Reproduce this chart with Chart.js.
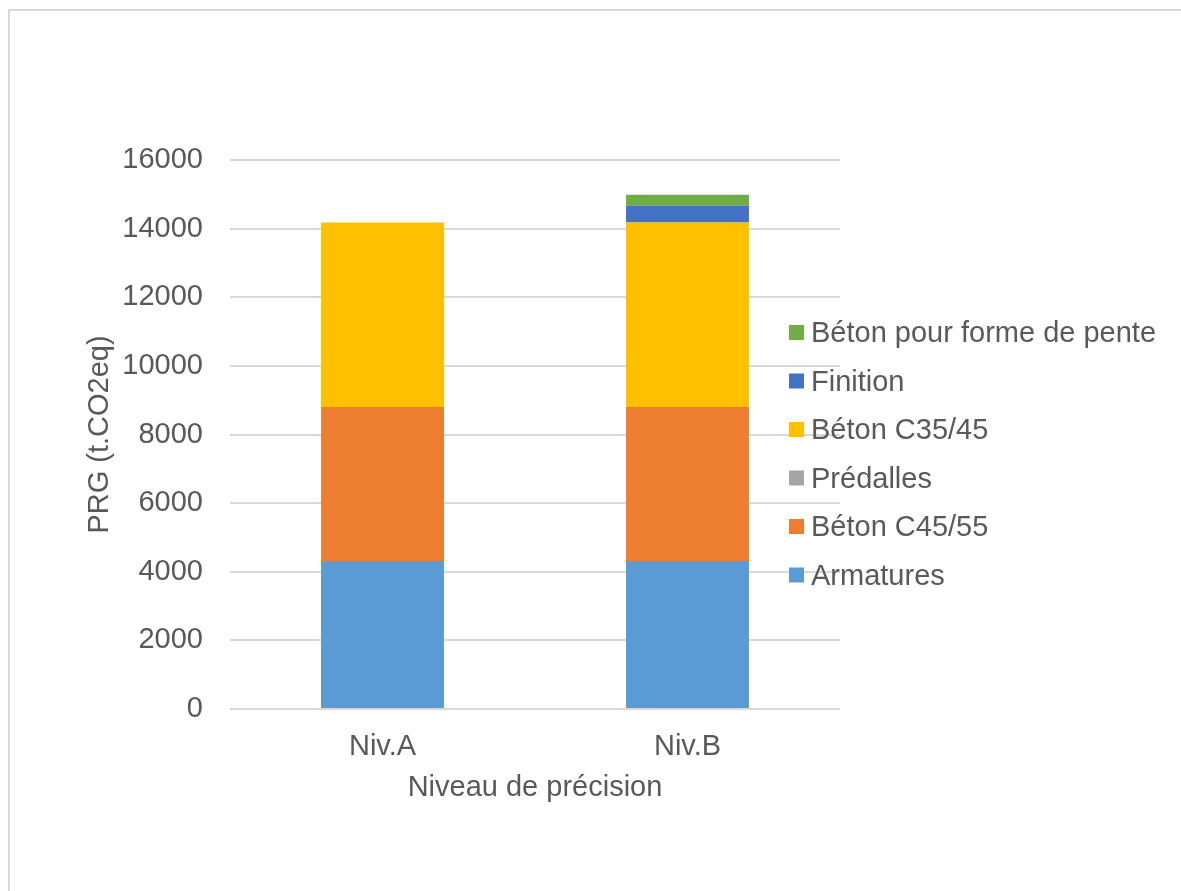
<!DOCTYPE html>
<html>
<head>
<meta charset="utf-8">
<script src="https://cdn.jsdelivr.net/npm/chart.js@4"></script>
<style>
  html, body { margin: 0; padding: 0; background: #ffffff; width: 1181px; height: 891px; overflow: hidden; }
  #frame { position: absolute; left: 8px; top: 9px; width: 1200px; height: 900px; border-left: 2px solid #d9d9d9; border-top: 2px solid #d9d9d9; }
  #wrap { position: absolute; left: 0; top: 0; width: 1181px; height: 891px; }
</style>
</head>
<body>
<div id="frame"></div>
<div id="wrap"><canvas id="c" width="1181" height="891"></canvas></div>
<script>
const categories = ["Niv.A", "Niv.B"];
const armatures = [4310, 4310];
const betonC4555 = [4490, 4490];
const predalles = [0, 0];
const betonC3545 = [5375, 5375];
const finition = [0, 495];
const betonPente = [0, 320];
const seriesNames = ["Armatures", "Béton C45/55", "Prédalles", "Béton C35/45", "Finition", "Béton pour forme de pente"];
const seriesColors = ["#5B9BD5", "#ED7D31", "#A5A5A5", "#FFC000", "#4472C4", "#70AD47"];
const yTitle = "PRG (t.CO2eq)";
const xTitle = "Niveau de précision";

const seriesValues = [armatures, betonC4555, predalles, betonC3545, finition, betonPente];
const FONT = "'Liberation Sans', Arial, sans-serif";
const TXT = "#595959";

const legendPlugin = {
  id: 'customLegend',
  afterDraw(chart) {
    const ctx = chart.ctx;
    ctx.save();
    ctx.font = "29px " + FONT;
    ctx.textBaseline = 'alphabetic';
    ctx.textAlign = 'left';
    const ds = chart.data.datasets;
    let row = 0;
    for (let i = ds.length - 1; i >= 0; i--) {
      const top = 325 + row * 48.5;
      ctx.fillStyle = ds[i].backgroundColor;
      ctx.fillRect(789, top, 15, 15);
      ctx.fillStyle = TXT;
      ctx.fillText(ds[i].label, 811, top + 17.3);
      row++;
    }
    ctx.restore();
  }
};

new Chart(document.getElementById('c'), {
  type: 'bar',
  data: {
    labels: categories,
    datasets: seriesNames.map((n, i) => ({
      label: n,
      data: seriesValues[i],
      backgroundColor: seriesColors[i],
      borderWidth: 0,
      barPercentage: 0.403,
      categoryPercentage: 1.0
    }))
  },
  options: {
    responsive: false,
    animation: false,
    events: [],
    layout: { padding: { left: 0, right: 341, top: 160, bottom: 0 } },
    plugins: {
      legend: { display: false },
      tooltip: { enabled: false },
      title: { display: false }
    },
    scales: {
      x: {
        stacked: true,
        grid: { display: false },
        border: { display: false },
        ticks: { color: TXT, font: { family: FONT, size: 29 }, padding: 13 },
        title: { display: true, text: xTitle, color: TXT, font: { family: FONT, size: 29 }, padding: { top: 0, bottom: 86 } },
        afterFit(scale) { scale.height = 182; }
      },
      y: {
        stacked: true,
        min: 0,
        max: 16000,
        ticks: { stepSize: 2000, color: TXT, font: { family: FONT, size: 29 }, padding: 27,
                 callback: (v) => String(v) },
        grid: { color: "#d9d9d9", lineWidth: 2, drawTicks: false },
        border: { display: false },
        title: { display: true, text: yTitle, color: TXT, font: { family: FONT, size: 29 }, padding: { top: 83, bottom: 0 } },
        afterFit(scale) { scale.width = 230; }
      }
    }
  },
  plugins: [legendPlugin]
});
</script>
</body>
</html>
